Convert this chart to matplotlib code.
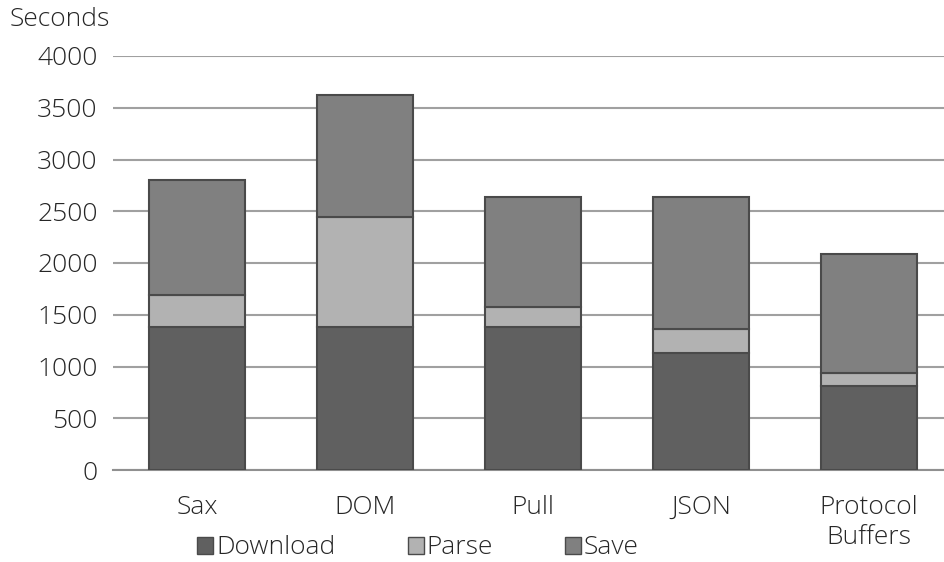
import numpy as np
import matplotlib
matplotlib.use('Agg')
import matplotlib.pyplot as plt
from matplotlib.patches import Patch

plt.rcParams['font.family'] = ['Open Sans', 'DejaVu Sans']
plt.rcParams['font.weight'] = 300

# data (seconds)
categories = ['Sax', 'DOM', 'Pull', 'JSON', 'Protocol\nBuffers']
download = [1385, 1385, 1385, 1130, 812]
parse = [310, 1060, 190, 234, 128]
save = [1105, 1180, 1063, 1274, 1148]
y_ticks = [0, 500, 1000, 1500, 2000, 2500, 3000, 3500, 4000]

colors = {'Download': '#606060', 'Parse': '#b2b2b2', 'Save': '#808080'}
edge = '#4a4a4a'
text_color = '#262626'
fs = 19

fig = plt.figure(figsize=(9.45, 5.62), dpi=100)
ax = fig.add_axes([113 / 945, 1 - 470 / 562, 1 - 113 / 945, (470 - 56) / 562])

x = np.arange(len(categories))
width = 0.571
bottom = np.zeros(len(categories))
for name, vals in [('Download', download), ('Parse', parse), ('Save', save)]:
    ax.bar(x, vals, width, bottom=bottom, color=colors[name],
           edgecolor=edge, linewidth=1.5, zorder=3)
    bottom += np.array(vals)

ax.set_xlim(-0.5, 4.452)
ax.set_ylim(0, 4000)
ax.set_yticks(y_ticks)
ax.set_xticks(x)
ax.set_xticklabels(categories, linespacing=1.28, va='top')
ax.yaxis.grid(True, color='#a0a0a0', linewidth=1.5, zorder=0)
ax.set_axisbelow(True)
for s in ['top', 'right', 'left']:
    ax.spines[s].set_visible(False)
ax.spines['bottom'].set_color('#909090')
ax.spines['bottom'].set_linewidth(1.5)
ax.tick_params(axis='both', length=0, labelsize=fs, colors=text_color)
ax.tick_params(axis='y', pad=11)
ax.tick_params(axis='x', pad=18)

fig.text(10 / 945, 1 - 19 / 562, 'Seconds', fontsize=fs, color=text_color,
         ha='left', va='center')

handles = [Patch(facecolor=c, edgecolor=edge, label=n) for n, c in colors.items()]
fig.legend(handles=handles, loc='center', ncol=3, frameon=False,
           bbox_to_anchor=(418 / 945, 1 - 548 / 562), fontsize=fs,
           handlelength=0.6, handleheight=0.6, handletextpad=0.1,
           columnspacing=2.75, labelcolor=text_color)

plt.savefig('out.png', dpi=100)
plt.close()
